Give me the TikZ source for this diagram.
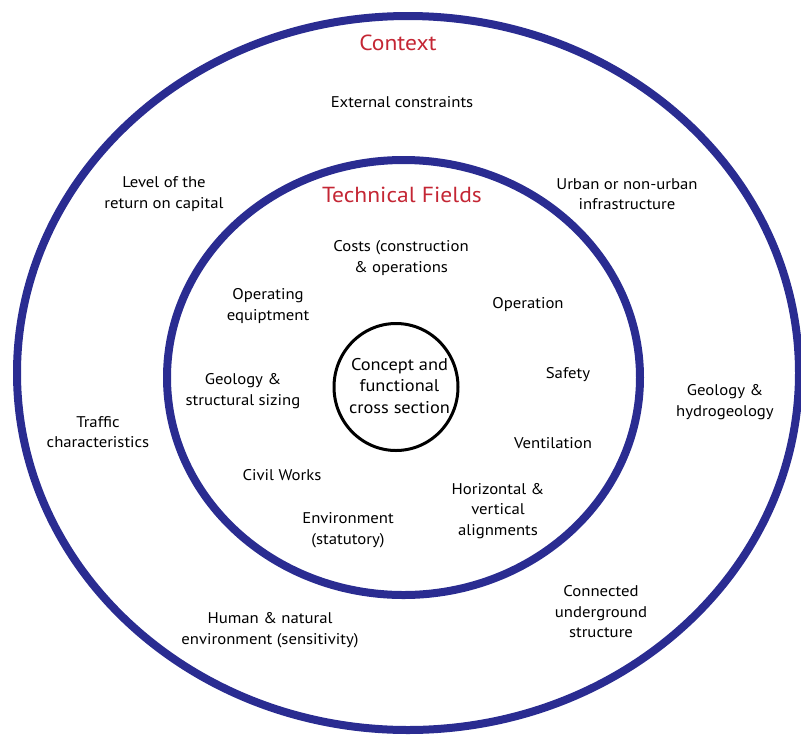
\documentclass[tikz,border=0pt]{standalone}
\usepackage{fontspec}
\setmainfont{PT Sans}[FakeStretch=1.08]
\usetikzlibrary{shapes.geometric}
\definecolor{ringblue}{RGB}{42,44,145}
\definecolor{titlered}{RGB}{196,38,52}

\begin{document}
\begin{tikzpicture}[x=1pt,y=1pt,
  ring/.style={ellipse, draw=ringblue, line width=8pt, inner sep=0pt},
  core/.style={ellipse, draw=black, line width=3pt, inner sep=0pt},
  coretext/.style={align=center, inner sep=0pt, font=\fontsize{17}{21.5}\selectfont},
  txt/.style={align=center, inner sep=0pt, font=\fontsize{15.5}{20.5}\selectfont},
  heading/.style={inner sep=0pt, text=titlered, font=\fontsize{21.8}{24}\selectfont}]
\useasboundingbox (0,0) rectangle (801,-740);
\begin{scope}
\clip (0,0) rectangle (801,-740);
% rings
\node[ring, minimum width=782pt, minimum height=714pt] (context) at (408,-373) {};
\node[ring, minimum width=473pt, minimum height=435pt] (fields) at (403.5,-377.5) {};
\node[core, minimum width=124pt, minimum height=127pt] (concept) at (396,-387) {};
\node[coretext] (concepttext) at (399.5,-386) {Concept and\\functional\\cross section};

% outer ring: context
\node[heading] (ctxtitle) at (398,-43) {Context};
\node[txt] (external) at (402,-102) {External constraints};
\node[txt] (return) at (164,-194) {Level of the\\return on capital};
\node[txt] (urban) at (627,-194) {Urban or non-urban\\infrastructure};
\node[txt] (hydro) at (725,-402) {Geology \&\\hydrogeology};
\node[txt] (traffic) at (98,-432) {Traffic\\characteristics};
\node[txt] (connected) at (601,-612) {Connected\\underground\\structure};
\node[txt] (human) at (270,-630) {Human \& natural\\environment (sensitivity)};

% inner ring: technical fields
\node[heading] (techtitle) at (402,-195) {Technical Fields};
\node[txt] (costs) at (401,-258) {Costs (construction\\\& operations};
\node[txt] (equip) at (268,-306) {Operating\\equiptment};
\node[txt] (operation) at (528,-305) {Operation};
\node[txt] (safety) at (568,-375) {Safety};
\node[txt] (structural) at (243,-391) {Geology \&\\structural sizing};
\node[txt] (ventilation) at (553,-443) {Ventilation};
\node[txt] (civil) at (282,-475) {Civil Works};
\node[txt] (alignments) at (498,-511) {Horizontal \&\\vertical\\alignments};
\node[txt] (environment) at (348,-530) {Environment\\(statutory)};
\end{scope}
\end{tikzpicture}
\end{document}
